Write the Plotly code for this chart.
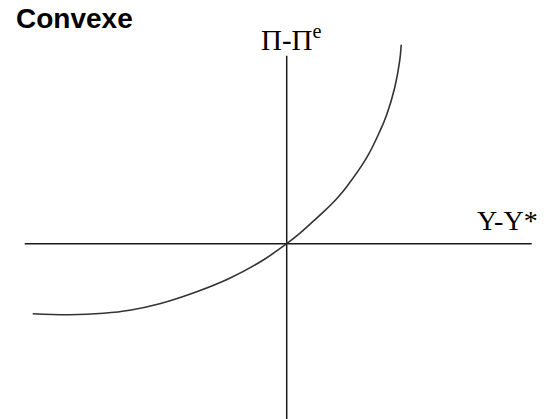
import plotly.graph_objects as go

# Curve (convex) : output gap (x) vs inflation surprise (y), arbitrary units
curve_x = [-254, -217, -183, -157, -127, -90, -57, -23, 0, 13, 25, 37, 50, 60, 80, 93, 100, 108, 113, 114.5]
curve_y = [-70, -71, -69.5, -66.5, -60, -48, -34.5, -16, 0, 10.3, 21, 32, 45, 57, 86, 112, 129, 156, 183, 199]

# Axis extents
h_axis_x = [-262, 245]
h_axis_y = [0, 0]
v_axis_x = [0, 0]
v_axis_y = [188, -176]

title_text = "Convexe"
x_label = "Y-Y*"
y_label = "Π-Π<sup>e</sup>"

fig = go.Figure()
fig.add_trace(go.Scatter(x=h_axis_x, y=h_axis_y, mode="lines",
                         line=dict(color="#1a1a1a", width=1.5), hoverinfo="skip"))
fig.add_trace(go.Scatter(x=v_axis_x, y=v_axis_y, mode="lines",
                         line=dict(color="#1a1a1a", width=1.5), hoverinfo="skip"))
fig.add_trace(go.Scatter(x=curve_x, y=curve_y, mode="lines",
                         line=dict(color="#333333", width=1.6, shape="spline", smoothing=1.0),
                         hoverinfo="skip"))

fig.add_annotation(x=0.025, y=0.998, xref="paper", yref="paper", xanchor="left", yanchor="top",
                   text="<b>" + title_text + "</b>", showarrow=False,
                   font=dict(family="Liberation Sans, Arial", size=28, color="#000"))
fig.add_annotation(x=5, y=186, xref="x", yref="y", xanchor="center", yanchor="bottom",
                   text=y_label, showarrow=False,
                   font=dict(family="Liberation Serif, Times New Roman", size=29, color="#000"))
fig.add_annotation(x=221, y=6, xref="x", yref="y", xanchor="center", yanchor="bottom",
                   text=x_label, showarrow=False,
                   font=dict(family="Liberation Serif, Times New Roman", size=28, color="#000"))

fig.update_layout(
    width=551, height=419,
    margin=dict(l=0, r=0, t=0, b=0),
    paper_bgcolor="white", plot_bgcolor="white",
    showlegend=False,
    xaxis=dict(range=[-286.7, 264.3], visible=False, fixedrange=True),
    yaxis=dict(range=[-175.3, 243.7], visible=False, fixedrange=True),
)

fig.write_html("out.html", config={"displayModeBar": False},
               post_script="document.body.style.margin='0';document.body.style.padding='0';")
